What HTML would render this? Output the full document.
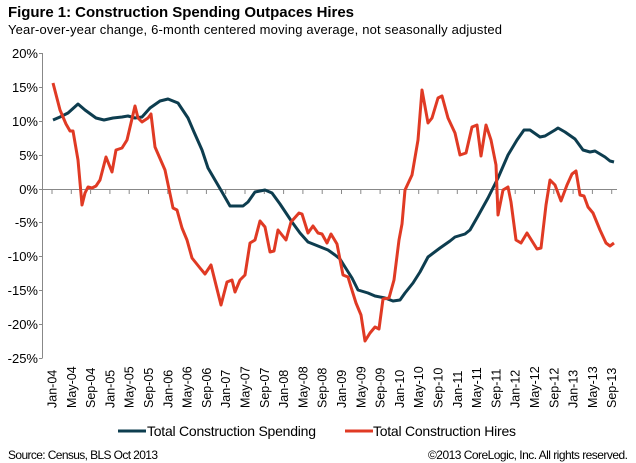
<!DOCTYPE html>
<html><head><meta charset="utf-8"><style>
body{margin:0;background:#fff;}
svg{display:block;font-family:"Liberation Sans",Arial,sans-serif;}
</style></head><body>
<svg width="636" height="463" viewBox="0 0 636 463" xmlns="http://www.w3.org/2000/svg">
<rect width="636" height="463" fill="#fff"/>
<text x="8" y="17" font-size="15" font-weight="bold" fill="#000" textLength="346">Figure 1: Construction Spending Outpaces Hires</text>
<text x="8" y="34" font-size="13" fill="#000" textLength="494">Year-over-year  change, 6-month centered moving average,  not seasonally adjusted</text>
<g font-size="13" fill="#000" text-anchor="end">
<text x="38" y="58">20%</text><text x="38" y="92">15%</text><text x="38" y="126">10%</text>
<text x="38" y="160">5%</text><text x="38" y="194">0%</text><text x="38" y="227">-5%</text>
<text x="38" y="261">-10%</text><text x="38" y="295">-15%</text><text x="38" y="329">-20%</text>
<text x="38" y="363">-25%</text>
</g>
<g stroke="#888" stroke-width="1">
<line x1="42.5" y1="53" x2="42.5" y2="358"/>
<line x1="39" y1="53.5" x2="42.5" y2="53.5"/><line x1="39" y1="87.5" x2="42.5" y2="87.5"/>
<line x1="39" y1="121.5" x2="42.5" y2="121.5"/><line x1="39" y1="155.5" x2="42.5" y2="155.5"/>
<line x1="39" y1="189.5" x2="42.5" y2="189.5"/><line x1="39" y1="222.5" x2="42.5" y2="222.5"/>
<line x1="39" y1="256.5" x2="42.5" y2="256.5"/><line x1="39" y1="290.5" x2="42.5" y2="290.5"/>
<line x1="39" y1="324.5" x2="42.5" y2="324.5"/><line x1="39" y1="358.5" x2="42.5" y2="358.5"/>
<line x1="42.5" y1="189.5" x2="617" y2="189.5"/>
<line x1="52" y1="189.5" x2="52" y2="194"/><line x1="71.3" y1="189.5" x2="71.3" y2="194"/><line x1="90.6" y1="189.5" x2="90.6" y2="194"/><line x1="109.9" y1="189.5" x2="109.9" y2="194"/><line x1="129.2" y1="189.5" x2="129.2" y2="194"/><line x1="148.5" y1="189.5" x2="148.5" y2="194"/><line x1="167.8" y1="189.5" x2="167.8" y2="194"/><line x1="187.1" y1="189.5" x2="187.1" y2="194"/><line x1="206.4" y1="189.5" x2="206.4" y2="194"/><line x1="225.7" y1="189.5" x2="225.7" y2="194"/><line x1="245" y1="189.5" x2="245" y2="194"/><line x1="264.3" y1="189.5" x2="264.3" y2="194"/><line x1="283.6" y1="189.5" x2="283.6" y2="194"/><line x1="302.9" y1="189.5" x2="302.9" y2="194"/><line x1="322.2" y1="189.5" x2="322.2" y2="194"/><line x1="341.5" y1="189.5" x2="341.5" y2="194"/><line x1="360.8" y1="189.5" x2="360.8" y2="194"/><line x1="380.1" y1="189.5" x2="380.1" y2="194"/><line x1="399.4" y1="189.5" x2="399.4" y2="194"/><line x1="418.7" y1="189.5" x2="418.7" y2="194"/><line x1="438" y1="189.5" x2="438" y2="194"/><line x1="457.3" y1="189.5" x2="457.3" y2="194"/><line x1="476.6" y1="189.5" x2="476.6" y2="194"/><line x1="495.9" y1="189.5" x2="495.9" y2="194"/><line x1="515.2" y1="189.5" x2="515.2" y2="194"/><line x1="534.5" y1="189.5" x2="534.5" y2="194"/><line x1="553.8" y1="189.5" x2="553.8" y2="194"/><line x1="573.1" y1="189.5" x2="573.1" y2="194"/><line x1="592.4" y1="189.5" x2="592.4" y2="194"/><line x1="611.7" y1="189.5" x2="611.7" y2="194"/>
</g>
<g font-size="12.5" fill="#000">
<text transform="translate(56.5,408) rotate(-90)">Jan-04</text>
<text transform="translate(75.8,408) rotate(-90)">May-04</text>
<text transform="translate(95.1,408) rotate(-90)">Sep-04</text>
<text transform="translate(114.4,408) rotate(-90)">Jan-05</text>
<text transform="translate(133.7,408) rotate(-90)">May-05</text>
<text transform="translate(153,408) rotate(-90)">Sep-05</text>
<text transform="translate(172.3,408) rotate(-90)">Jan-06</text>
<text transform="translate(191.6,408) rotate(-90)">May-06</text>
<text transform="translate(210.9,408) rotate(-90)">Sep-06</text>
<text transform="translate(230.2,408) rotate(-90)">Jan-07</text>
<text transform="translate(249.5,408) rotate(-90)">May-07</text>
<text transform="translate(268.8,408) rotate(-90)">Sep-07</text>
<text transform="translate(288.1,408) rotate(-90)">Jan-08</text>
<text transform="translate(307.4,408) rotate(-90)">May-08</text>
<text transform="translate(326.7,408) rotate(-90)">Sep-08</text>
<text transform="translate(346,408) rotate(-90)">Jan-09</text>
<text transform="translate(365.3,408) rotate(-90)">May-09</text>
<text transform="translate(384.6,408) rotate(-90)">Sep-09</text>
<text transform="translate(403.9,408) rotate(-90)">Jan-10</text>
<text transform="translate(423.2,408) rotate(-90)">May-10</text>
<text transform="translate(442.5,408) rotate(-90)">Sep-10</text>
<text transform="translate(461.8,408) rotate(-90)">Jan-11</text>
<text transform="translate(481.1,408) rotate(-90)">May-11</text>
<text transform="translate(500.4,408) rotate(-90)">Sep-11</text>
<text transform="translate(519.7,408) rotate(-90)">Jan-12</text>
<text transform="translate(539,408) rotate(-90)">May-12</text>
<text transform="translate(558.3,408) rotate(-90)">Sep-12</text>
<text transform="translate(577.6,408) rotate(-90)">Jan-13</text>
<text transform="translate(596.9,408) rotate(-90)">May-13</text>
<text transform="translate(616.2,408) rotate(-90)">Sep-13</text>
</g>
<polyline fill="none" stroke="#0d3d4f" stroke-width="3" stroke-linejoin="round" points="53,120 60,117 68,113 78,104 85,110 96,118 104,120 113,118 122,117 128,116 135,118 142,117 150,108 160,101 168,99 178,103 188,118 194,132 202,150 208,168 215,180 222,192 230,206 243,206 248,202 255,192 265,190 272,193 280,204 292,222 300,233 308,242 318,246 328,250 335,255 340,259 345,267 352,278 358,290 368,293 375,296 385,298 393,301 400,300 405,293 413,283 420,272 428,257 440,248 450,241 455,237 465,234 470,230 478,216 488,198 498,178 508,155 517,140 524,130 530,130 540,137 545,136 555,130 558,128 565,132 575,139 583,150 590,152 595,151 605,157 610,161 614,162"/>
<polyline fill="none" stroke="#e03a24" stroke-width="3" stroke-linejoin="round" points="53,83 60,110 66,124 70,131 73,131 78,160 82,205 85,193 88,187 92,188 96,186 100,180 106,157 112,172 116,150 122,148 127,140 135,106 138,118 142,122 148,118 151,114 155,147 165,170 173,208 177,210 182,228 187,240 192,258 200,268 205,274 211,265 221,305 227,282 232,280 235,292 240,280 245,275 250,243 255,240 260,221 265,227 270,252 274,251 278,230 286,240 291,222 299,213 302,214 308,233 313,226 318,233 322,234 327,243 331,234 337,244 343,275 348,277 351,287 356,303 361,315 365,341 370,333 375,327 379,329 383,299 389,298 394,280 399,240 402,224 405,190 412,175 418,140 422,90 428,123 432,118 438,98 442,96 448,118 455,133 460,155 466,153 472,127 477,125 481,156 486,125 491,140 496,165 498,215 503,190 508,187 511,202 516,240 521,243 527,233 532,241 537,249 541,248 546,205 550,180 555,185 561,201 567,185 572,174 576,171 580,195 584,196 588,207 593,213 600,230 606,243 610,246 614,243"/>
<line x1="118" y1="431" x2="146" y2="431" stroke="#0d3d4f" stroke-width="3"/>
<text x="147" y="436" font-size="14" fill="#000" textLength="169">Total Construction Spending</text>
<line x1="345" y1="431" x2="373" y2="431" stroke="#e03a24" stroke-width="3"/>
<text x="373" y="436" font-size="14" fill="#000" textLength="143">Total Construction Hires</text>
<text x="8" y="459" font-size="12" fill="#000" textLength="150">Source: Census, BLS Oct 2013</text>
<text x="628" y="459" font-size="12" fill="#000" text-anchor="end" textLength="200">©2013 CoreLogic, Inc. All rights reserved.</text>
</svg>
</body></html>
